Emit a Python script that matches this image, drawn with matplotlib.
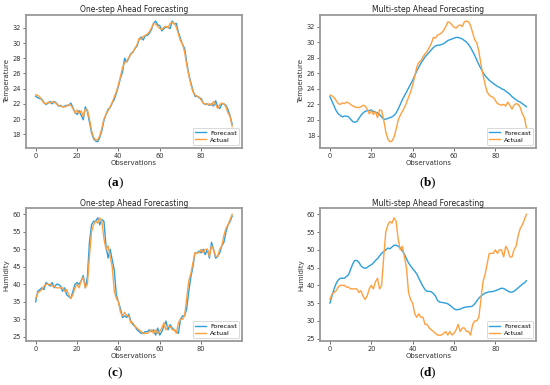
import numpy as np
import matplotlib
matplotlib.use("Agg")
import matplotlib.pyplot as plt

# observations 0..95
obs = np.arange(96)

temp_actual = [23.2, 23.1, 22.9, 22.5, 22.1, 22.0, 22.2, 22.1, 22.3, 22.2,
               22.0, 21.8, 21.7, 21.6, 21.6, 21.7, 21.9, 21.8, 21.4, 20.8,
               21.2, 20.7, 21.1, 20.3, 21.3, 21.2, 20.0, 18.5, 17.6, 17.2,
               17.3, 17.8, 18.8, 20.0, 20.6, 21.1, 21.6, 22.2, 22.9, 23.6,
               24.5, 25.6, 26.8, 27.4, 27.6, 28.1, 28.5, 28.8, 29.3, 29.8,
               30.6, 30.5, 30.9, 31.0, 31.2, 31.5, 32.0, 32.6, 32.5, 32.2,
               31.9, 31.8, 32.1, 32.2, 32.0, 32.6, 32.7, 32.6, 32.1, 31.2,
               30.3, 29.9, 28.8, 27.2, 25.8, 24.6, 23.6, 23.2, 23.0, 22.9,
               22.5, 22.1, 22.0, 21.9, 22.0, 21.8, 22.3, 21.9, 21.4, 21.9,
               22.1, 22.0, 21.6, 20.8, 20.3, 19.0]

temp_one_step = [23.0, 22.8, 22.7, 22.6, 22.2, 21.9, 22.1, 22.3, 22.0, 22.3,
                 22.1, 21.7, 21.8, 21.6, 21.7, 21.8, 21.8, 22.1, 21.5, 20.9,
                 20.6, 21.1, 20.5, 19.9, 21.6, 21.0, 19.6, 18.2, 17.4, 17.1,
                 17.0, 17.6, 18.5, 19.8, 20.6, 21.3, 21.5, 22.1, 22.6, 23.4,
                 24.3, 25.4, 26.2, 28.0, 27.5, 28.0, 28.6, 28.8, 29.3, 29.6,
                 30.5, 30.8, 30.4, 31.0, 31.0, 31.3, 31.8, 32.6, 32.9, 32.4,
                 32.3, 31.6, 31.9, 32.1, 32.1, 31.9, 32.9, 32.5, 32.6, 31.4,
                 30.6, 29.8, 29.3, 27.5, 25.9, 24.8, 23.8, 23.0, 23.0, 22.8,
                 22.7, 22.1, 21.9, 22.0, 21.8, 22.0, 21.7, 22.4, 21.6, 21.4,
                 22.0, 22.0, 21.8, 21.2, 20.4, 19.3]

temp_multi_step = [23.0, 22.4, 21.8, 21.2, 20.8, 20.6, 20.4, 20.5, 20.5, 20.4,
                   20.1, 19.8, 19.7, 19.8, 20.2, 20.6, 20.9, 21.1, 21.2, 21.2,
                   21.3, 21.1, 21.0, 20.9, 20.7, 20.4, 20.1, 20.1, 20.2, 20.3,
                   20.4, 20.6, 20.9, 21.4, 22.0, 22.6, 23.1, 23.6, 24.1, 24.6,
                   25.1, 25.7, 26.3, 26.8, 27.3, 27.7, 28.1, 28.4, 28.7, 29.0,
                   29.3, 29.5, 29.6, 29.6, 29.7, 29.8, 30.0, 30.2, 30.3, 30.4,
                   30.5, 30.6, 30.6, 30.5, 30.4, 30.2, 30.0, 29.7, 29.3, 28.8,
                   28.3, 27.7, 27.1, 26.6, 26.1, 25.7, 25.4, 25.1, 24.9, 24.7,
                   24.5, 24.3, 24.2, 24.0, 23.9, 23.7, 23.5, 23.3, 23.0, 22.8,
                   22.6, 22.4, 22.3, 22.1, 21.9, 21.7]

hum_actual = [36, 37.5, 38, 38.5, 39.5, 40, 40, 40, 39.5, 39.5,
              39, 39, 39, 39, 38, 38.5, 37, 36, 37, 39,
              40, 39, 41, 42, 39, 40, 48, 55, 57, 58,
              57.5, 59, 58, 53, 50, 51, 48, 45, 38, 36,
              35, 32, 31, 32, 31, 31, 29, 29, 28, 27.5,
              27, 26.5, 26, 26, 26, 26.5, 27, 26, 27, 26,
              26.5, 27.5, 29, 27, 28, 28, 27, 27, 26, 29,
              30, 30, 31, 36, 41, 43, 46, 49, 49, 49,
              50, 49, 50, 50, 48, 51, 50, 48, 48, 50,
              51, 54, 56, 57, 58.5, 60]

hum_one_step = [35, 38, 38.5, 39, 38.5, 40.5, 40, 39.5, 40.5, 39,
                40, 40, 39.5, 38, 39, 37, 36.5, 36, 38, 40,
                40.5, 40, 41, 42.5, 39, 42, 52, 57, 58, 58,
                59, 57, 58.5, 58, 51, 47.5, 50, 47, 44, 37,
                35, 33, 30.5, 31, 30.5, 31.5, 29.5, 28.5, 28, 27,
                26.5, 26, 26, 26.5, 26.5, 27, 26.5, 27, 25.5, 27.5,
                25.5, 26.5, 28, 29.5, 27, 28.5, 27.5, 27, 26.5, 26,
                30, 31, 31, 33, 38, 42, 45, 49, 49, 49.5,
                49, 50, 48.5, 50, 47.5, 52, 50, 47.5, 48, 49,
                51, 52, 55, 57, 58, 59.5]

hum_multi_step = [35, 37, 39, 40.5, 41.5, 42, 42, 42, 42.5, 43,
                  44.5, 46, 47, 47, 46.5, 45.5, 45, 44.8, 45, 45.5,
                  45.8, 46.3, 47, 47.5, 48.3, 49, 49.5, 50, 50.5, 50.3,
                  50.8, 51.3, 51.3, 51, 50.5, 49.7, 48.8, 47.5, 46.3, 45.5,
                  44.7, 44, 43.2, 42, 40.8, 39.7, 38.8, 38.3, 38.3, 38.2,
                  37.7, 37, 35.8, 35.3, 35.2, 35.1, 35, 34.8, 34.4, 33.9,
                  33.4, 33.1, 33.2, 33.3, 33.6, 33.8, 33.9, 34, 34, 34.2,
                  34.8, 35.6, 36.4, 37, 37.4, 37.8, 38, 38.2, 38.2, 38.3,
                  38.5, 38.7, 39, 39.2, 39.1, 38.8, 38.4, 38.1, 38.1, 38.3,
                  38.8, 39.3, 39.8, 40.3, 40.7, 41.3]

BLUE = "#2e9fdc"
ORANGE = "#ffa040"

plt.rcParams["font.family"] = "DejaVu Sans"
plt.rcParams["mathtext.fontset"] = "custom"
plt.rcParams["mathtext.rm"] = "Liberation Serif"
plt.rcParams["mathtext.bf"] = "Liberation Serif:bold"

fig = plt.figure(figsize=(5.5, 3.85), dpi=100)

panels = [
    # rect, title, ylabel, forecast, actual, yticks, letter, letter pos
    ([0.047, 0.616, 0.393, 0.345], "One-step Ahead Forecasting", "Temperature",
     temp_one_step, temp_actual, [18, 20, 22, 24, 26, 28, 30, 32], "a", (0.210, 0.523)),
    ([0.582, 0.616, 0.393, 0.345], "Multi-step Ahead Forecasting", "Temperature",
     temp_multi_step, temp_actual, [18, 20, 22, 24, 26, 28, 30, 32], "b", (0.778, 0.523)),
    ([0.047, 0.114, 0.393, 0.345], "One-step Ahead Forecasting", "Humidity",
     hum_one_step, hum_actual, [25, 30, 35, 40, 45, 50, 55, 60], "c", (0.210, 0.030)),
    ([0.582, 0.114, 0.393, 0.345], "Multi-step Ahead Forecasting", "Humidity",
     hum_multi_step, hum_actual, [25, 30, 35, 40, 45, 50, 55, 60], "d", (0.778, 0.030)),
]

for rect, title, ylabel, fc, act, yticks, letter, lpos in panels:
    ax = fig.add_axes(rect)
    ax.plot(obs, fc, color=BLUE, lw=1.0, label="Forecast")
    ax.plot(obs, act, color=ORANGE, lw=1.0, label="Actual")
    ax.set_title(title, fontsize=5.5, pad=2, color="#222222")
    ax.set_xlabel("Observations", fontsize=5, labelpad=1, color="#333333")
    ax.set_ylabel(ylabel, fontsize=5, labelpad=2, color="#333333")
    ax.set_xticks([0, 20, 40, 60, 80])
    ax.set_yticks(yticks)
    ax.tick_params(labelsize=4.8, length=2, width=0.5, pad=1.5, colors="#333333")
    for sp in ax.spines.values():
        sp.set_color("#999999")
        sp.set_linewidth(1.3)
    leg = ax.legend(loc="lower right", fontsize=4.5, handlelength=1.8,
                    handletextpad=0.6, borderpad=0.35, labelspacing=0.25,
                    framealpha=1)
    leg.get_frame().set_linewidth(0.5)
    fig.text(lpos[0], lpos[1], r"($\mathbf{%s}$)" % letter, fontsize=9.5,
             family="Liberation Serif", ha="center", va="center")

fig.savefig("out.png", dpi=100)
